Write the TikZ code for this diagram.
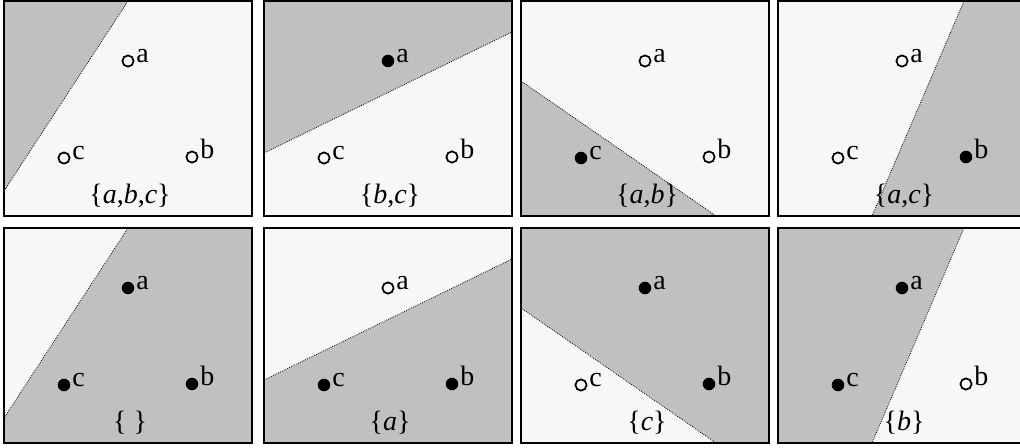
\documentclass[tikz,border=0pt]{standalone}
\usepackage{fontspec}
\setmainfont{Liberation Serif}
\definecolor{lightbg}{RGB}{247,247,247}
\definecolor{darkbg}{RGB}{192,192,192}
\tikzset{
  frame/.style={draw=black, line width=1.5pt},
  sep/.style={draw=black, line width=0.6pt, dash pattern=on 0.6pt off 0.9pt},
  openpt/.style={circle, draw=black, line width=1.3pt, inner sep=0pt, minimum size=8.4pt},
  fullpt/.style={circle, fill=black, inner sep=0pt, minimum size=9.4pt},
  ptlabel/.style={anchor=base west, inner sep=0pt, font=\fontsize{21}{21}\selectfont},
  setlabel/.style={anchor=base, inner sep=0pt, font=\fontsize{21}{21}\selectfont},
}
\newcommand{\threepts}[4]{%
  \node[#2] (a#1) at (124,60) {};
  \node[#3] (b#1) at (188,156) {};
  \node[#4] (c#1) at (60,157) {};
  \node[ptlabel] (la#1) at ([shift={(8,1)}]a#1.center) {a};
  \node[ptlabel] (lb#1) at ([shift={(8,1)}]b#1.center) {b};
  \node[ptlabel] (lc#1) at ([shift={(8,1)}]c#1.center) {c};
}
\begin{document}
\begin{tikzpicture}[x=0.75pt,y=-0.75pt]
\useasboundingbox (0,0) rectangle (1020,447);
\fill[white] (0,0) rectangle (1020,447);
% ---------- top row ----------
\begin{scope}[shift={(4,1)}]
  \fill[lightbg] (0,0) rectangle (248,215);
  \fill[darkbg] (0,0) -- (124,0) -- (0,190) -- cycle;
  \draw[sep] (124,0) -- (0,190);
  \draw[frame] (0,0) rectangle (248,215);
  \threepts{1}{openpt}{openpt}{openpt}
  \node[setlabel] (s1) at (126,202) {\{\textit{a},\textit{b},\textit{c}\}};
\end{scope}
\begin{scope}[shift={(264,1)}]
  \fill[lightbg] (0,0) rectangle (248,215);
  \fill[darkbg] (0,0) -- (248,0) -- (248,31) -- (0,152) -- cycle;
  \draw[sep] (0,152) -- (248,31);
  \draw[frame] (0,0) rectangle (248,215);
  \threepts{2}{fullpt}{openpt}{openpt}
  \node[setlabel] (s2) at (126,202) {\{\textit{b},\textit{c}\}};
\end{scope}
\begin{scope}[shift={(521,1)}]
  \fill[lightbg] (0,0) rectangle (248,215);
  \fill[darkbg] (0,80) -- (195,215) -- (0,215) -- cycle;
  \draw[sep] (0,80) -- (195,215);
  \draw[frame] (0,0) rectangle (248,215);
  \threepts{3}{openpt}{openpt}{fullpt}
  \node[setlabel] (s3) at (126,202) {\{\textit{a},\textit{b}\}};
\end{scope}
\begin{scope}[shift={(778,1)}]
  \fill[lightbg] (0,0) rectangle (248,215);
  \fill[darkbg] (186,0) -- (248,0) -- (248,215) -- (94,215) -- cycle;
  \draw[sep] (186,0) -- (94,215);
  \draw[frame] (0,0) rectangle (248,215);
  \threepts{4}{openpt}{fullpt}{openpt}
  \node[setlabel] (s4) at (126,202) {\{\textit{a},\textit{c}\}};
\end{scope}
% ---------- bottom row ----------
\begin{scope}[shift={(4,228)}]
  \fill[darkbg] (0,0) rectangle (248,215);
  \fill[lightbg] (0,0) -- (124,0) -- (0,190) -- cycle;
  \draw[sep] (124,0) -- (0,190);
  \draw[frame] (0,0) rectangle (248,215);
  \threepts{5}{fullpt}{fullpt}{fullpt}
  \node[setlabel] (s5) at (126,202) {\{ \}};
\end{scope}
\begin{scope}[shift={(264,228)}]
  \fill[darkbg] (0,0) rectangle (248,215);
  \fill[lightbg] (0,0) -- (248,0) -- (248,31) -- (0,152) -- cycle;
  \draw[sep] (0,152) -- (248,31);
  \draw[frame] (0,0) rectangle (248,215);
  \threepts{6}{openpt}{fullpt}{fullpt}
  \node[setlabel] (s6) at (126,202) {\{\textit{a}\}};
\end{scope}
\begin{scope}[shift={(521,228)}]
  \fill[darkbg] (0,0) rectangle (248,215);
  \fill[lightbg] (0,80) -- (195,215) -- (0,215) -- cycle;
  \draw[sep] (0,80) -- (195,215);
  \draw[frame] (0,0) rectangle (248,215);
  \threepts{7}{fullpt}{fullpt}{openpt}
  \node[setlabel] (s7) at (126,202) {\{\textit{c}\}};
\end{scope}
\begin{scope}[shift={(778,228)}]
  \fill[darkbg] (0,0) rectangle (248,215);
  \fill[lightbg] (186,0) -- (248,0) -- (248,215) -- (94,215) -- cycle;
  \draw[sep] (186,0) -- (94,215);
  \draw[frame] (0,0) rectangle (248,215);
  \threepts{8}{fullpt}{openpt}{fullpt}
  \node[setlabel] (s8) at (126,202) {\{\textit{b}\}};
\end{scope}
\end{tikzpicture}
\end{document}
